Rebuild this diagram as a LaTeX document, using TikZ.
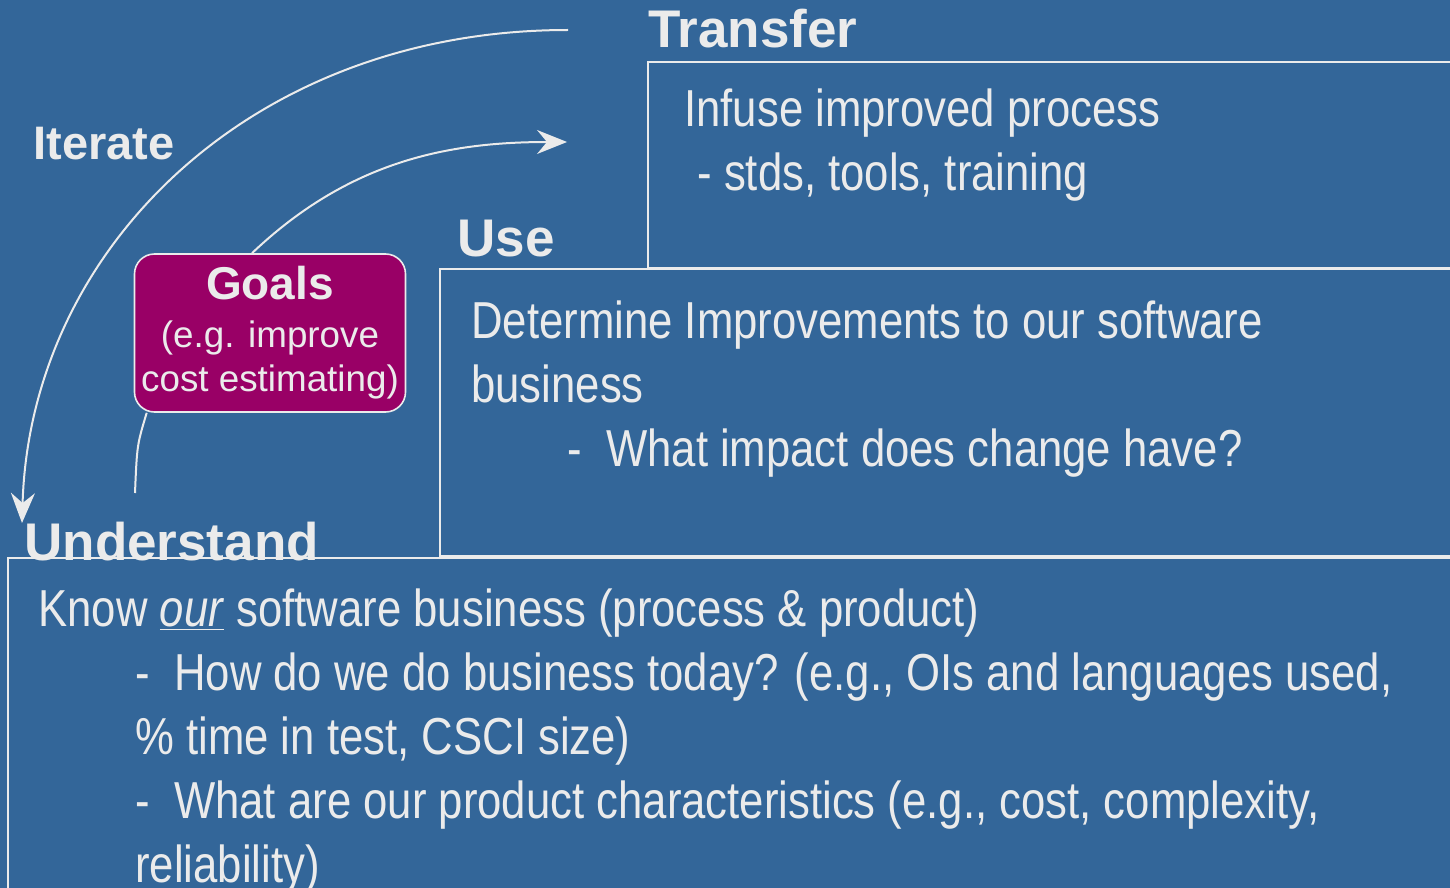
\documentclass[tikz,border=0pt]{standalone}
\usepackage{fontspec}
\setmainfont{Liberation Sans}
\newfontfamily\narrowfont[FakeStretch=0.84]{Liberation Sans}
\usetikzlibrary{arrows.meta, positioning}
\definecolor{slideblue}{HTML}{336699}
\definecolor{paletext}{HTML}{EBEBEB}
\definecolor{goalfill}{HTML}{990066}

\begin{document}
\begin{tikzpicture}[
    x=0.5pt, y=-0.5pt,
    text=paletext,
    phase/.style={font=\fontsize{26.5}{30}\selectfont\bfseries, anchor=base west, inner sep=0pt},
    body/.style={font=\narrowfont\fontsize{26}{32}\selectfont, anchor=base west, align=left, inner sep=0pt},
    panel/.style={draw=paletext, line width=1.4pt},
    goalbox/.style={rectangle, rounded corners=10pt, draw=paletext, fill=goalfill, line width=0.8pt,
                    minimum width=135.5pt, minimum height=79pt, align=center, inner sep=0pt,
                    font=\fontsize{18.4}{22}\selectfont},
    flow/.style={draw=paletext, line width=1pt, -{Stealth[length=15pt, width=12pt, inset=5pt]}},
    link/.style={draw=paletext, line width=1pt}
]

% --- Fondo ---
\clip (0,0) rectangle (1450,888);
\fill[slideblue] (0,0) rectangle (1450,888);

% --- Paneles ---
\draw[panel] (648,62) rectangle (1470,268);
\draw[panel] (440,269) rectangle (1470,556);
\draw[panel] (8,558) rectangle (1470,900);

% --- Titulos de fase ---
\node[phase] (transfer) at (648,48) {Transfer};
\node[phase] (use) at (457,256) {Use};
\node[phase] (understand) at (24,560) {Understand};
\node[phase, font=\fontsize{23.5}{28}\selectfont\bfseries] (iterate) at (33,159) {Iterate};

% --- Textos de los paneles (anclados en la ultima linea) ---
\node[body] (infuse) at (684,190) {Infuse improved process\\\hspace*{6.5pt}- stds, tools, training};
\node[body] (determine) at (471,466) {Determine Improvements to our software\\business\\
    \hspace*{48pt}-\ \ What impact does change have?};
\node[body] (know) at (38,882) {Know \underline{\textit{our}} software business (process \& product)\\
    \hspace*{48.5pt}-\ \ How do we do business today? (e.g., OIs and languages used,\\
    \hspace*{48.5pt}\% time in test, CSCI size)\\
    \hspace*{48.5pt}-\ \ What are our product characteristics (e.g., cost, complexity,\\
    \hspace*{48.5pt}reliability)};

% --- Objetivos ---
\node[goalbox] (goals) at (270,333) {{\fontsize{23}{24}\selectfont\bfseries Goals}\\[2pt]
    (e.g. improve\\cost estimating)};

% --- Flechas ---
\coordinate (iterstart) at (568,30);
\coordinate (understandtip) at (22,523);
\coordinate (transfertip) at (567,142);
\coordinate (goalstail) at (135,493);

\draw[flow] (iterstart) .. controls (250,30) and (30,250) .. (understandtip);
\draw[flow] ([xshift=-9pt]goals.north) .. controls (350,160) and (450,142) .. (transfertip);
\draw[link] ([xshift=6.5pt]goals.south west) .. controls (137,445) .. (goalstail);

\end{tikzpicture}
\end{document}
